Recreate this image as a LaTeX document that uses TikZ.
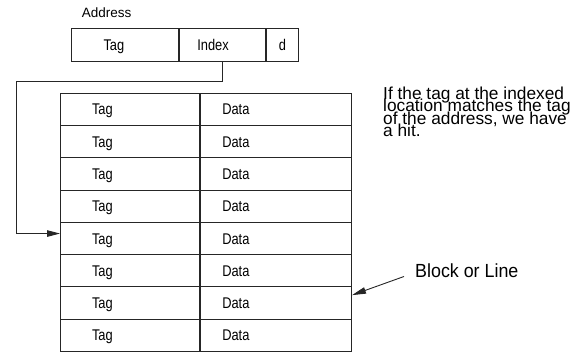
\documentclass[tikz,border=0pt]{standalone}
\usepackage{fontspec}
\setmainfont{Liberation Sans}
\newfontfamily\cellfont{Liberation Sans}[FakeStretch=0.83]
\newfontfamily\calloutfont{Liberation Sans}[FakeStretch=0.94]
\usetikzlibrary{arrows.meta}

\tikzset{
  rule/.style={draw=black!85, line width=1pt},
  % a boxed cell: text set flush left after a given left padding
  cellbox/.style n args={2}{rule, rectangle, anchor=north west,
    inner ysep=0pt, inner xsep=#2, text width=#1, align=left,
    minimum height=32.3pt, text height=11pt, text depth=0pt,
    font=\cellfont\fontsize{15.5}{18}\selectfont},
  link/.style={draw=black!85, line width=0.9pt,
    -{Triangle[length=13pt,width=6.5pt]}},
  note/.style={inner sep=0pt, anchor=north west, align=left,
    font={\fontsize{17.3}{12.2}\selectfont\lineskiplimit=-20pt}},
}

\begin{document}
\begin{tikzpicture}[x=1pt, y=-1pt]
  \useasboundingbox (0,0) rectangle (581,352);

  % address word: tag | index | offset
  \node[inner sep=0pt, anchor=base west, font=\fontsize{13.5}{16}\selectfont]
    (addrlbl) at (81.7,17.7) {Address};
  \node[cellbox={43pt}{32.3pt}] (atag) at (70.7,28.3) {Tag};
  \node[cellbox={50.7pt}{17.5pt}] (aidx) at (atag.north east) {Index};
  \node[cellbox={7.7pt}{12.3pt}] (aoff) at (aidx.north east) {d};

  % cache array: eight tag/data lines
  \foreach \i in {1,...,8} {
    \node[cellbox={76.3pt}{31.5pt}] (tag\i) at (60,{92.7+(\i-1)*32.3}) {Tag};
    \node[cellbox={107.7pt}{21.5pt}] (data\i) at (tag\i.north east) {Data};
  }

  % index selects a line
  \coordinate (bend) at (16.7,81);
  \draw[link] (aidx.south) |- (bend) |- ([yshift=5pt]tag5.west);

  % explanatory note
  \node[note] (hitnote) at (383,87)
    {If the tag at the indexed\\location matches the tag\\of the address, we have\\a hit.};

  % block / line callout
  \node[inner sep=0pt, anchor=base west, font=\calloutfont\fontsize{19}{22}\selectfont]
    (blk) at (415,277.7) {Block or Line};
  \draw[link, -{Triangle[length=14pt,width=6.5pt]}]
    ([xshift=-11pt,yshift=1.2pt]blk.base west) -- ([yshift=8pt]data7.east);
\end{tikzpicture}
\end{document}
